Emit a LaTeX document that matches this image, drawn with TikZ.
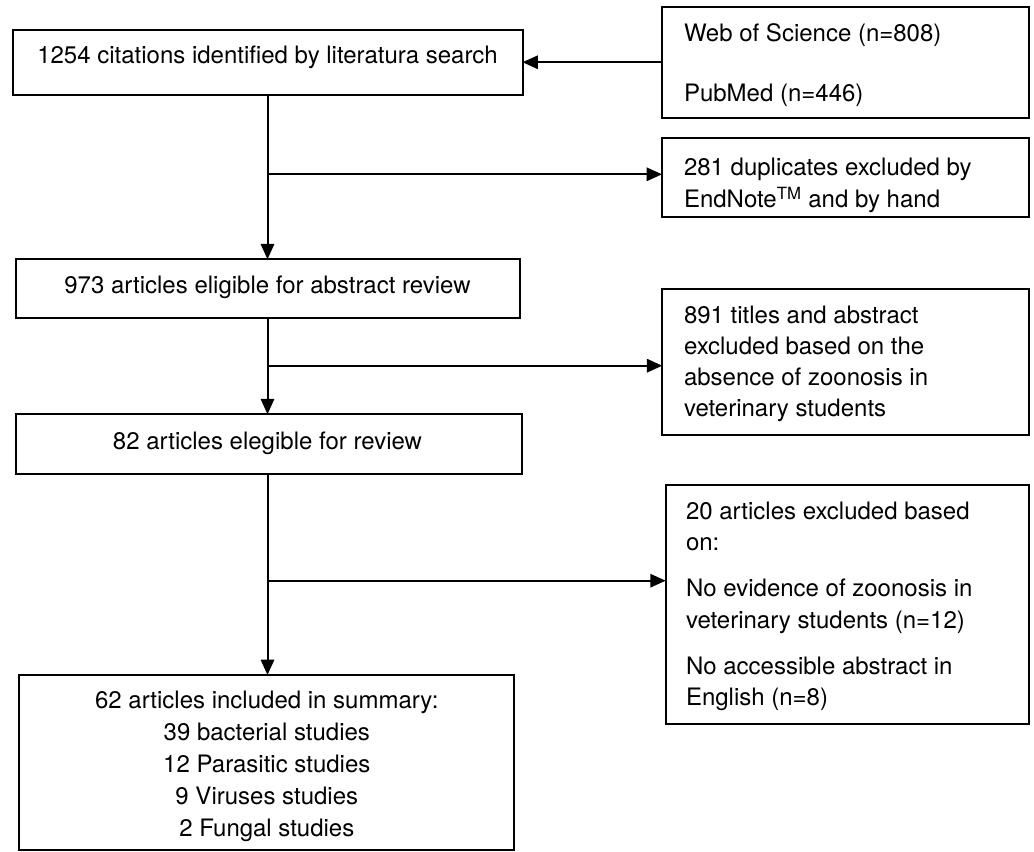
\documentclass[tikz,border=0pt]{standalone}
\usepackage{fontspec}
\setmainfont{TeX Gyre Heros}
\usetikzlibrary{arrows.meta}
\begin{document}
\begin{tikzpicture}[x=0.75pt,y=-0.75pt,
  every node/.style={inner sep=0pt, outer sep=0pt},
  box/.style={draw, line width=1.5pt, rectangle},
  lbl/.style={font=\fontsize{18}{22}\selectfont},
  lc/.style={lbl, anchor=base},
  ll/.style={lbl, anchor=base west},
  conn/.style={line width=1.5pt},
  arr/.style={conn, -{Triangle[length=11.5pt,width=10pt]}}]
\useasboundingbox (0,0) rectangle (1034,852);
\fill[white] (0,0) rectangle (1034,852);

% boxes
\node[box, minimum width=382.5pt, minimum height=49.1pt] (A) at (267.5,62.25) {};
\node[box, minimum width=275.25pt, minimum height=83.25pt] (B) at (845.5,62.8) {};
\node[box, minimum width=275.25pt, minimum height=59.1pt] (C) at (845.5,177.9) {};
\node[box, minimum width=378pt, minimum height=43.8pt] (D) at (267.7,288.5) {};
\node[box, minimum width=275pt, minimum height=109.5pt] (E) at (845.6,362) {};
\node[box, minimum width=380pt, minimum height=44.8pt] (F) at (269,444.15) {};
\node[box, minimum width=272.5pt, minimum height=179.25pt] (G) at (847.3,604.5) {};
\node[box, minimum width=371.25pt, minimum height=131.25pt] (H) at (266.8,762.5) {};

% texts
\node[lc] (tA) at (267.5,63.3) {1254 citations identified by literatura search};
\node[ll] (tB1) at (684,41.7) {Web of Science (n=808)};
\node[ll] (tB2) at (684,101.7) {PubMed (n=446)};
\node[ll] (tC1) at (684,176) {281 duplicates excluded by};
\node[ll] (tC2) at (684,208) {EndNote\textsuperscript{TM} and by hand};
\node[lc] (tD) at (267.5,293.3) {973 articles eligible for abstract review};
\node[ll] (tE1) at (684,323.3) {891 titles and abstract};
\node[ll] (tE2) at (684,354.3) {excluded based on the};
\node[ll] (tE3) at (684,385.5) {absence of zoonosis in};
\node[ll] (tE4) at (684,416.7) {veterinary students};
\node[lc] (tF) at (267.5,449) {82 articles elegible for review};
\node[ll] (tG1) at (686,519.3) {20 articles excluded based};
\node[ll] (tG2) at (686,550) {on:};
\node[ll] (tG3) at (686,596) {No evidence of zoonosis in};
\node[ll] (tG4) at (686,628) {veterinary students (n=12)};
\node[ll] (tG5) at (686,674) {No accessible abstract in};
\node[ll] (tG6) at (686,705) {English (n=8)};
\node[lc] (tH1) at (266.8,708) {62 articles included in summary:};
\node[lc] (tH2) at (266.8,740) {39 bacterial studies};
\node[lc] (tH3) at (266.8,772) {12 Parasitic studies};
\node[lc] (tH4) at (266.8,804) {9 Viruses studies};
\node[lc] (tH5) at (266.8,836) {2 Fungal studies};

% junctions
\coordinate (j1) at (267.5,174.3);
\coordinate (j2) at (267.5,365.7);
\coordinate (j3) at (267.5,580.7);

% connectors
\draw[arr] (B.west |- A.east) -- (A.east);
\draw[arr] (A.south) -- (A.south |- D.north);
\draw[arr] (j1) -- (j1 -| C.west);
\draw[arr] (A.south |- D.south) -- (A.south |- F.north);
\draw[arr] (j2) -- (j2 -| E.west);
\draw[arr] (A.south |- F.south) -- (A.south |- H.north);
\draw[arr] (j3) -- (j3 -| G.west);
\end{tikzpicture}
\end{document}
